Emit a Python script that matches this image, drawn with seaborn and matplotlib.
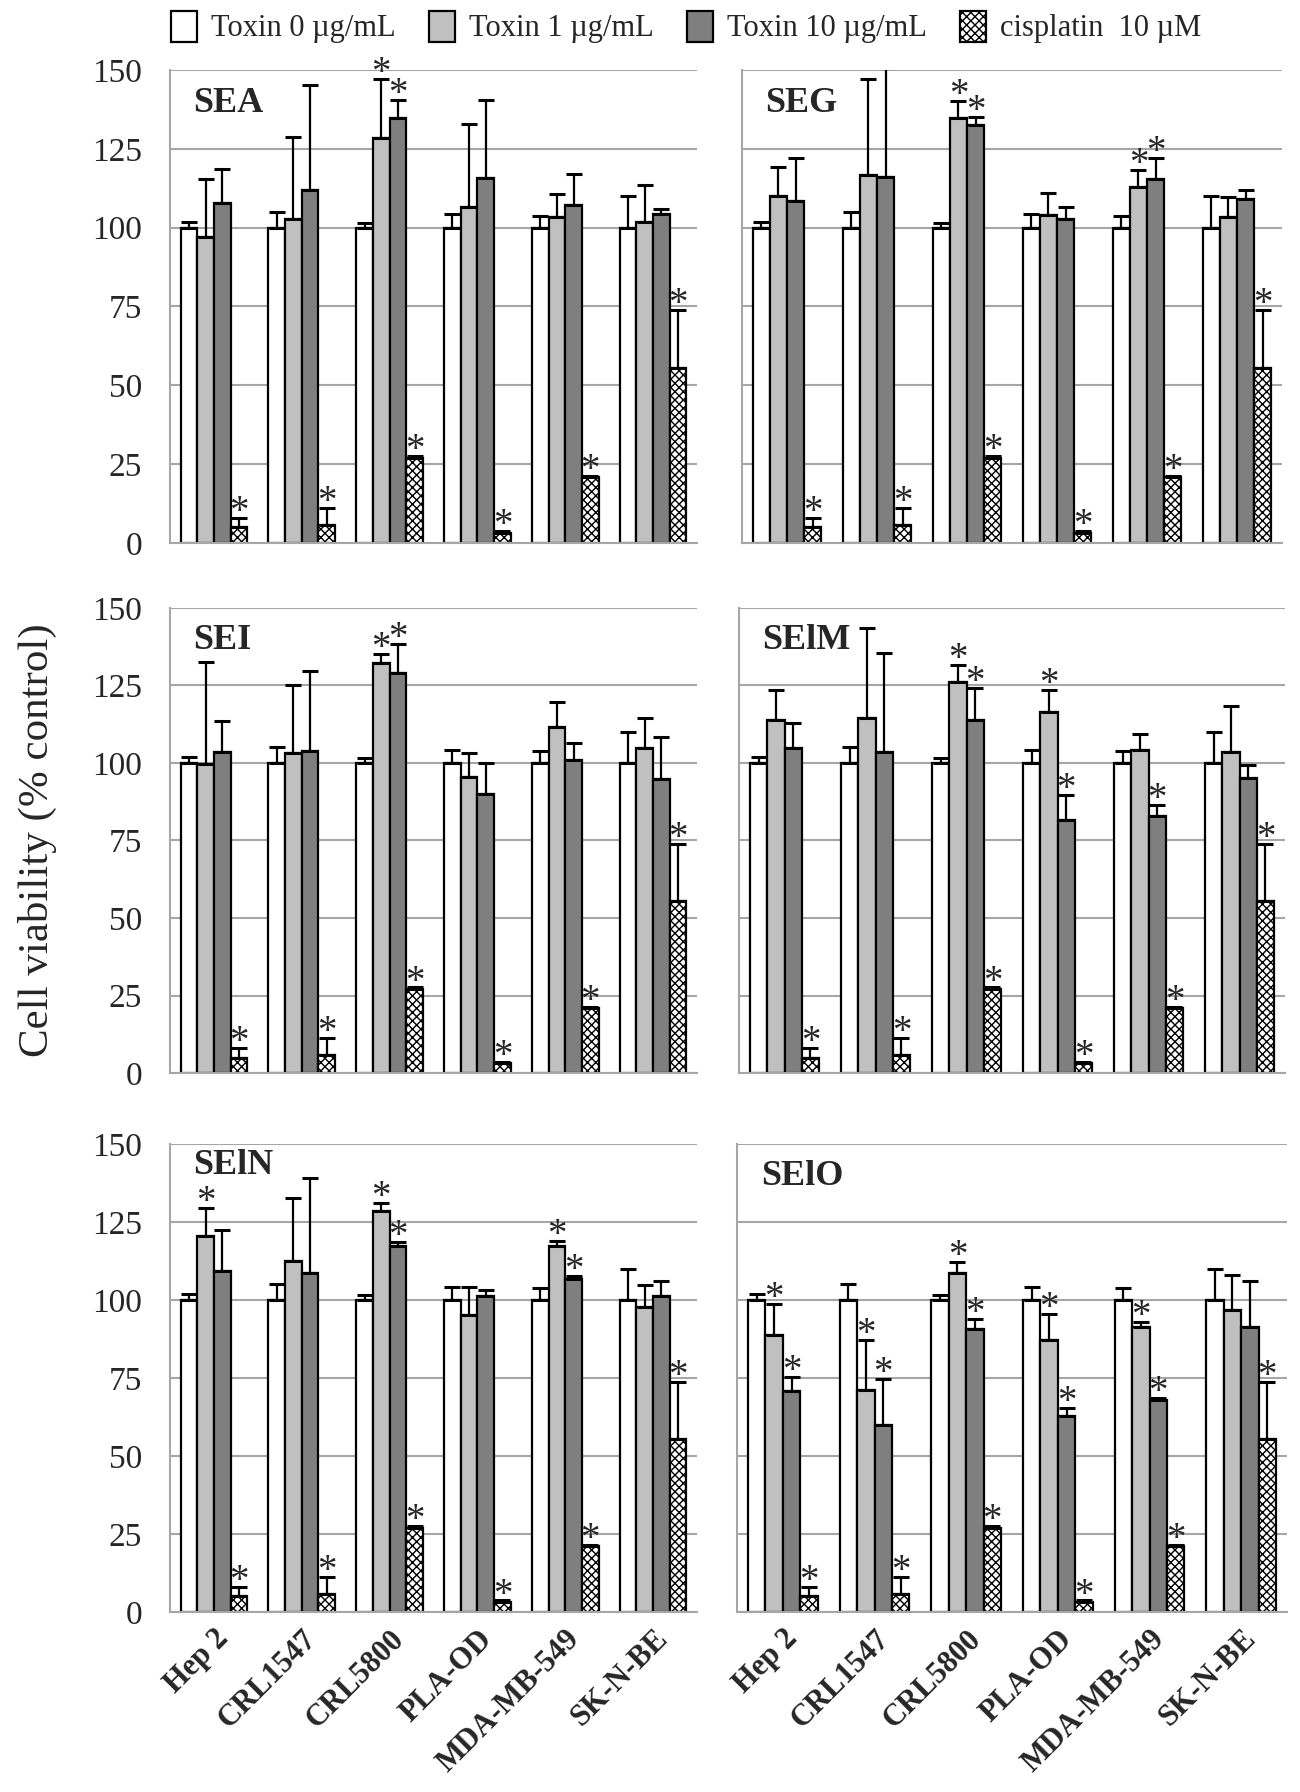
import numpy as np
import pandas as pd
import matplotlib
matplotlib.use("Agg")
import matplotlib.pyplot as plt
import seaborn as sns
from matplotlib.patches import Patch

sns.set_style("white")
plt.rcParams["font.family"] = ["Liberation Serif", "DejaVu Serif"]
plt.rcParams["hatch.linewidth"] = 1.0

cells = ["Hep 2", "CRL1547", "CRL5800", "PLA-OD", "MDA-MB-549", "SK-N-BE"]
series = ["Toxin 0 µg/mL", "Toxin 1 µg/mL", "Toxin 10 µg/mL", "cisplatin  10 µM"]
colors = ["white", "#c0c0c0", "#7f7f7f", "white"]

# shared controls (same in every panel)
ctrl = [100, 100, 100, 100, 100, 100]
ctrl_sd = [1.8, 5.0, 1.5, 4.3, 3.8, 10.0]
cis = [5.0, 5.7, 27.0, 3.3, 21.0, 55.6]
cis_sd = [3.0, 5.5, 0.6, 0.4, 0.4, 18.2]

# toxin panels: means, upper SD, significance flags
sea_t1 = [97.0, 102.7, 128.3, 106.4, 103.3, 101.8]
sea_t1_sd = [18.4, 26.1, 18.9, 26.6, 7.3, 11.7]
sea_t10 = [107.8, 112.0, 134.7, 115.8, 107.3, 104.3]
sea_t10_sd = [10.8, 33.3, 5.7, 24.6, 9.8, 1.5]
sea_t1_star = [0, 0, 1, 0, 0, 0]
sea_t10_star = [0, 0, 1, 0, 0, 0]

seg_t1 = [110.0, 116.6, 134.7, 103.9, 112.9, 103.3]
seg_t1_sd = [9.2, 30.6, 5.5, 7.0, 5.4, 6.5]
seg_t10 = [108.4, 116.0, 132.5, 102.7, 115.4, 109.2]
seg_t10_sd = [13.8, 34.5, 2.6, 4.0, 6.6, 2.6]
seg_t1_star = [0, 0, 1, 0, 1, 0]
seg_t10_star = [0, 0, 1, 0, 1, 0]

sei_t1 = [99.6, 103.2, 132.1, 95.5, 111.5, 104.8]
sei_t1_sd = [33.0, 21.9, 3.1, 7.7, 8.3, 9.8]
sei_t10 = [103.5, 104.0, 129.0, 89.9, 101.0, 94.9]
sei_t10_sd = [10.0, 25.6, 9.5, 10.0, 5.6, 13.6]
sei_t1_star = [0, 0, 1, 0, 0, 0]
sei_t10_star = [0, 0, 1, 0, 0, 0]

selm_t1 = [113.9, 114.6, 126.1, 116.4, 104.2, 103.7]
selm_t1_sd = [9.8, 28.8, 5.6, 7.3, 5.0, 14.6]
selm_t10 = [104.8, 103.7, 113.9, 81.6, 82.9, 95.0]
selm_t10_sd = [8.0, 31.7, 10.4, 8.0, 3.6, 4.4]
selm_t1_star = [0, 0, 1, 1, 0, 0]
selm_t10_star = [0, 0, 1, 1, 1, 0]

seln_t1 = [120.4, 112.4, 128.5, 95.1, 117.3, 97.7]
seln_t1_sd = [9.2, 20.4, 2.6, 9.2, 1.6, 7.2]
seln_t10 = [109.3, 108.7, 117.3, 101.2, 106.8, 101.2]
seln_t10_sd = [13.1, 30.3, 1.4, 2.0, 0.8, 5.0]
seln_t1_star = [1, 0, 1, 0, 1, 0]
seln_t10_star = [0, 0, 1, 0, 1, 0]

selo_t1 = [88.8, 71.1, 108.7, 87.1, 91.3, 96.8]
selo_t1_sd = [9.9, 16.0, 3.5, 8.5, 1.7, 11.3]
selo_t10 = [70.8, 59.8, 90.8, 62.8, 68.0, 91.3]
selo_t10_sd = [4.5, 14.9, 3.2, 2.7, 0.6, 14.9]
selo_t1_star = [1, 1, 1, 1, 1, 0]
selo_t10_star = [1, 1, 1, 1, 1, 0]

panels = [
    ("SEA", sea_t1, sea_t1_sd, sea_t10, sea_t10_sd, sea_t1_star, sea_t10_star),
    ("SEG", seg_t1, seg_t1_sd, seg_t10, seg_t10_sd, seg_t1_star, seg_t10_star),
    ("SEI", sei_t1, sei_t1_sd, sei_t10, sei_t10_sd, sei_t1_star, sei_t10_star),
    ("SElM", selm_t1, selm_t1_sd, selm_t10, selm_t10_sd, selm_t1_star, selm_t10_star),
    ("SElN", seln_t1, seln_t1_sd, seln_t10, seln_t10_sd, seln_t1_star, seln_t10_star),
    ("SElO", selo_t1, selo_t1_sd, selo_t10, selo_t10_sd, selo_t1_star, selo_t10_star),
]

W, H = 1300, 1792
# axes boxes in pixels: left, top, right, bottom
boxes = [
    (170, 70, 697, 543), (742, 70, 1282, 543),
    (170, 608, 697, 1073), (739, 608, 1285, 1073),
    (170, 1144, 697, 1612), (737, 1144, 1287, 1612),
]

grid_c = "#a6a6a6"
fig = plt.figure(figsize=(W / 100, H / 100), dpi=100)

for k, (name, t1, t1_sd, t10, t10_sd, s1, s10) in enumerate(panels):
    l, t, r, b = boxes[k]
    ax = fig.add_axes([l / W, 1 - b / H, (r - l) / W, (b - t) / H])
    df = pd.DataFrame({
        "cell": cells * 4,
        "group": np.repeat(series, 6),
        "value": ctrl + t1 + t10 + cis,
    })
    sns.barplot(data=df, x="cell", y="value", hue="group", order=cells,
                hue_order=series, palette=dict(zip(series, colors)),
                width=0.76, edgecolor="black", linewidth=1.6, saturation=1,
                errorbar=None, legend=False, ax=ax, zorder=2)
    sds = [ctrl_sd, t1_sd, t10_sd, cis_sd]
    stars = [[0] * 6, s1, s10, [1] * 6]
    bar_conts = list(ax.containers)
    for i, cont in enumerate(bar_conts):
        xs = [p.get_x() + p.get_width() / 2 for p in cont]
        hs = [p.get_height() for p in cont]
        ax.errorbar(xs, hs, yerr=[np.zeros(6), sds[i]], fmt="none",
                    ecolor="black", elinewidth=1.6, capsize=6, capthick=2.2,
                    zorder=3)
        if i == 3:
            for p in cont:
                p.set_hatch("xxxx")
        for j in range(6):
            if stars[i][j]:
                ax.annotate("*", (xs[j], hs[j] + sds[i][j]), xytext=(0, -3),
                            textcoords="offset points", ha="center",
                            va="baseline", fontsize=28, zorder=4)

    ax.set_ylim(0, 150)
    ax.set_xlim(-0.5, 5.5)
    ax.set_yticks([0, 25, 50, 75, 100, 125, 150])
    ax.yaxis.grid(True, color=grid_c, linewidth=1.5)
    ax.set_axisbelow(True)
    ax.tick_params(axis="y", length=7, width=1.5, color=grid_c, pad=13,
                   labelsize=24)
    if k % 2 == 1:
        ax.tick_params(axis="y", labelleft=False)
    ax.tick_params(axis="x", length=0)
    ax.set_xlabel("")
    ax.set_ylabel("")
    for side in ["top", "right"]:
        ax.spines[side].set_visible(False)
    for side in ["left", "bottom"]:
        ax.spines[side].set_color(grid_c)
        ax.spines[side].set_linewidth(1.5)
    if k == 0:
        ax.set_xticks(np.arange(-0.5, 6, 1), minor=True)
        ax.tick_params(axis="x", which="minor", length=10, width=1.5,
                       color=grid_c)
    if k >= 4:
        ax.set_xticks(range(6))
        ax.set_xticklabels(cells, rotation=45, ha="right",
                           rotation_mode="anchor", fontweight="bold",
                           fontsize=22)
        ax.tick_params(axis="x", pad=9)
    else:
        ax.set_xticklabels([])
    # SElN label sits a little higher so it clears the Hep 2 asterisk
    label_y = 0.953 if name == "SElN" else 0.93
    ax.text(0.043, label_y, name, transform=ax.transAxes, fontsize=26,
            fontweight="bold", va="center", ha="left")

handles = [Patch(facecolor=c, edgecolor="black", linewidth=1.6,
                 hatch=("xxxx" if i == 3 else None))
           for i, c in enumerate(colors)]
fig.legend(handles, series, loc="center left", bbox_to_anchor=(171 / W, 1 - 27 / H),
           ncol=4, frameon=False, fontsize=22, borderpad=0, borderaxespad=0,
           handlelength=0.85, handleheight=1.2, handletextpad=0.45,
           columnspacing=1.1)

fig.text(37 / W, 1 - 840 / H, "Cell viability (% control)", rotation=90,
         fontsize=31, va="center", ha="center")

fig.savefig("out.png", dpi=100)
